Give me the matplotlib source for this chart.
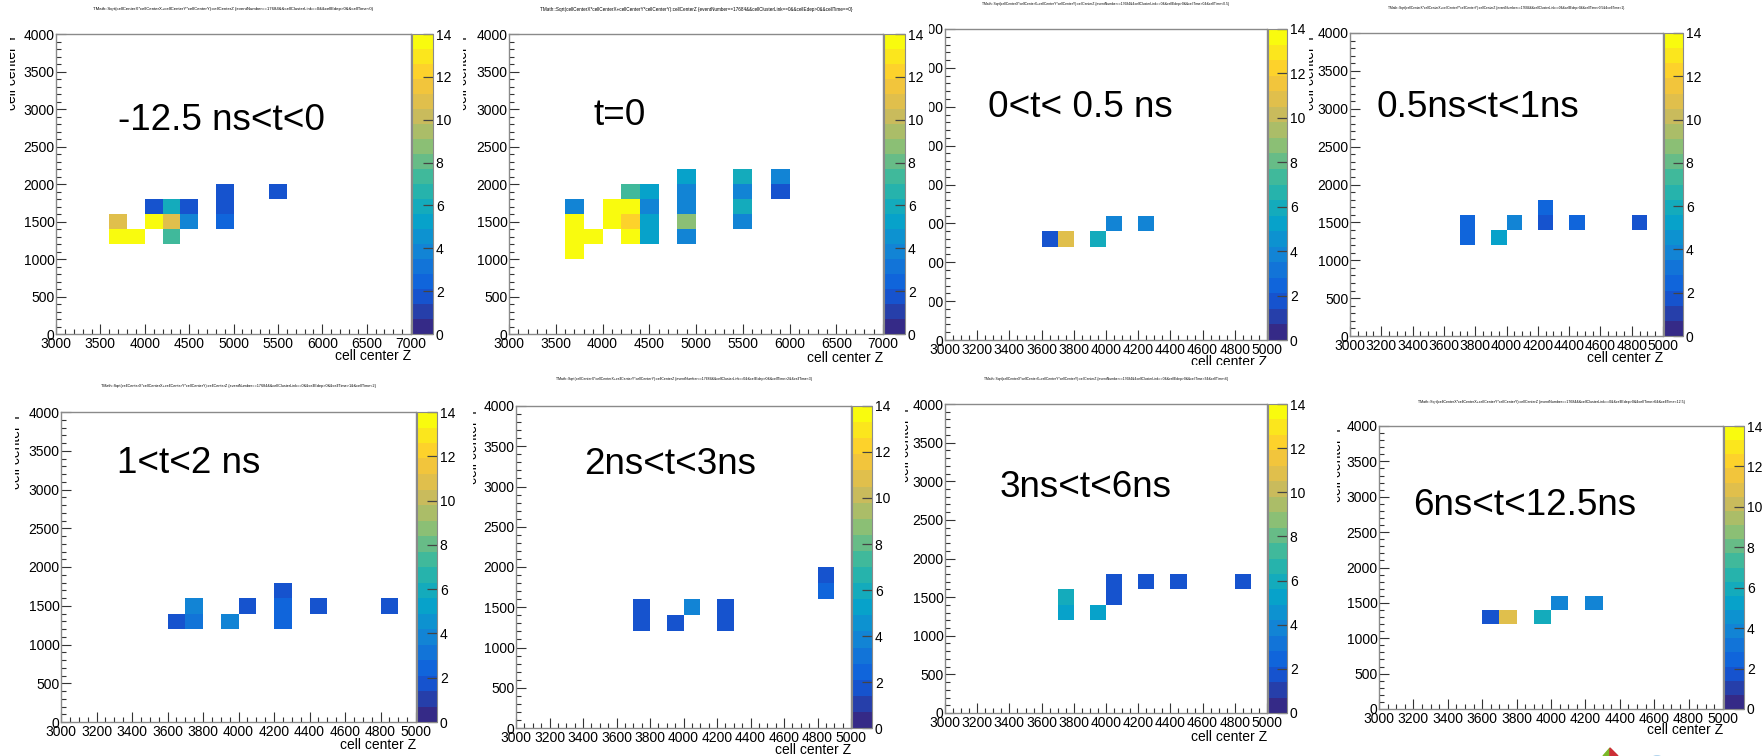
import numpy as np
import matplotlib
matplotlib.use("Agg")
import matplotlib.pyplot as plt
from matplotlib.colors import LinearSegmentedColormap, ListedColormap
from matplotlib.ticker import MultipleLocator
from matplotlib.transforms import Bbox, TransformedBbox
from matplotlib.textpath import TextPath
from matplotlib.font_manager import FontProperties
from matplotlib.patches import Polygon, Circle

plt.rcParams['font.family'] = ['Liberation Sans', 'DejaVu Sans']

W, H = 1762, 756

# time windows shown on each panel
labels = ["-12.5 ns<t<0", "t=0", "0<t< 0.5 ns", "0.5ns<t<1ns",
          "1<t<2 ns", "2ns<t<3ns", "3ns<t<6ns", "6ns<t<12.5ns"]
cuts = ["cellTime<0", "cellTime==0", "cellTime>0&&cellTime<0.5", "cellTime>0.5&&cellTime<1",
        "cellTime>1&&cellTime<2", "cellTime>2&&cellTime<3", "cellTime>3&&cellTime<6",
        "cellTime>6&&cellTime<12.5"]

# cell centres (Z, Y) and bin contents for every window
z1 = [3700, 3900, 4300, 3700, 4100, 4300, 4500, 4100, 4300, 4500, 4900, 4900, 4900, 5500]
y1 = [1300, 1300, 1300, 1500, 1500, 1500, 1500, 1700, 1700, 1700, 1500, 1700, 1900, 1900]
w1 = [13.8, 13.4, 7.5, 10.8, 13.8, 10.8, 4.0, 1.6, 6.0, 1.6, 2.4, 1.6, 1.6, 1.6]

z2 = [3700, 3700, 3700, 3700, 3900, 4100, 4100, 4300, 4300, 4300, 4300,
      4500, 4500, 4500, 4500, 4900, 4900, 4900, 4900, 4900, 5500, 5500, 5500, 5500, 5900, 5900]
y2 = [1700, 1500, 1300, 1100, 1300, 1700, 1500, 1900, 1700, 1500, 1300,
      1900, 1700, 1500, 1300, 2100, 1900, 1700, 1500, 1300, 2100, 1900, 1700, 1500, 2100, 1900]
w2 = [3.8, 13.8, 13.8, 13.8, 13.8, 13.8, 13.8, 7.5, 13.8, 12.0, 13.8,
      5.0, 4.0, 5.0, 5.0, 5.0, 4.0, 3.6, 8.7, 3.6, 6.0, 4.0, 6.0, 4.0, 3.6, 1.6]

z3 = [3650, 3750, 3950, 4050, 4250]
y3 = [1300, 1300, 1300, 1500, 1500]
w3 = [1.6, 10.8, 6.0, 4.0, 4.0]

z4 = [3750, 3750, 3950, 4050, 4250, 4250, 4450, 4850]
y4 = [1300, 1500, 1300, 1500, 1500, 1700, 1500, 1500]
w4 = [2.4, 2.4, 5.0, 3.6, 1.6, 2.4, 2.4, 1.6]

z5 = [3650, 3750, 3750, 3950, 4050, 4250, 4250, 4250, 4450, 4850]
y5 = [1300, 1300, 1500, 1300, 1500, 1300, 1500, 1700, 1500, 1500]
w5 = [1.6, 3.3, 4.0, 3.8, 1.6, 2.4, 2.4, 1.6, 1.6, 1.6]

z6 = [3750, 3750, 3950, 4050, 4250, 4250, 4850, 4850]
y6 = [1300, 1500, 1300, 1500, 1300, 1500, 1700, 1900]
w6 = [1.6, 1.6, 1.6, 3.6, 1.6, 1.6, 2.4, 1.6]

z7 = [3750, 3750, 3950, 4050, 4050, 4250, 4450, 4850]
y7 = [1300, 1500, 1300, 1500, 1700, 1700, 1700, 1700]
w7 = [5.0, 5.8, 5.3, 1.6, 1.6, 1.6, 1.6, 1.6]

z8 = [3650, 3750, 3950, 4050, 4250]
y8 = [1300, 1300, 1300, 1500, 1500]
w8 = [1.6, 10.8, 6.0, 4.0, 4.0]

zs = [z1, z2, z3, z4, z5, z6, z7, z8]
ys = [y1, y2, y3, y4, y5, y6, y7, y8]
ws = [w1, w2, w3, w4, w5, w6, w7, w8]
zmax = [7000, 7000, 5000, 5000, 5000, 5000, 5000, 5000]
zbin = [200, 200, 100, 100, 100, 100, 100, 100]

# ROOT kBird palette with 20 contour levels
bird_r = [0.2082, 0.0592, 0.0780, 0.0232, 0.1802, 0.5301, 0.8186, 0.9956, 0.9764]
bird_g = [0.1664, 0.3599, 0.5041, 0.6419, 0.7178, 0.7492, 0.7328, 0.7862, 0.9832]
bird_b = [0.5293, 0.8684, 0.8385, 0.7914, 0.6425, 0.4662, 0.3499, 0.1968, 0.0539]
bird = LinearSegmentedColormap.from_list(
    "bird", list(zip(np.linspace(0, 1, 9), zip(bird_r, bird_g, bird_b))))
cmap = ListedColormap(bird(np.linspace(0, 1, 20)))

# panel boxes in pixels: axes left, top, right, bottom, colorbar left, right
boxes = [(56, 34, 411, 334, 412, 433), (509, 34, 883, 334, 884, 905),
         (945, 29, 1267, 340, 1268, 1287), (1350, 33, 1663, 336, 1664, 1683),
         (61, 412, 416, 722, 417, 437), (516, 406, 851, 728, 852, 872),
         (945, 404, 1267, 713, 1268, 1287), (1379, 426, 1723, 709, 1724, 1744)]
label_pos = [(118, 130), (593, 125), (988, 117), (1377, 117),
             (117, 473), (584, 474), (1000, 497), (1413, 515)]
title_pos = [(94, 373, 9), (543, 849, 9), (980, 1231, 4), (1385, 1628, 8),
             (102, 375, 386), (555, 812, 379), (983, 1230, 379), (1418, 1685, 402)]
xlab_y = [356, 358, 362, 358, 745, 750, 737, 730]
ylab_pos = [(19, 33, 10), (470, 33, 463), None, (1317, 33, 1309),
            (23, 412, 15), (480, 407, 473), (912, 405, 905), (1344, 425, 1337)]

fig = plt.figure(figsize=(W / 100, H / 100), dpi=100)
fig.patch.set_facecolor("white")


def clip_px(x0, y0, x1, y1):
    return TransformedBbox(Bbox.from_extents(x0 / W, 1 - y1 / H, x1 / W, 1 - y0 / H),
                           fig.transFigure)


fp = FontProperties(family="Liberation Sans")
frame = "#8a8a8a"

for i in range(8):
    l, t, r, b, c0, c1 = boxes[i]
    ax = fig.add_axes([l / W, 1 - b / H, (r - l) / W, (b - t) / H])
    xedges = np.arange(3000, zmax[i] + 1, zbin[i])
    yedges = np.arange(0, 4001, 200)
    h = ax.hist2d(zs[i], ys[i], bins=[xedges, yedges], weights=ws[i],
                  cmap=cmap, vmin=0, vmax=14, cmin=0.01)
    ax.set_xlim(3000, zmax[i])
    ax.set_ylim(0, 4000)
    if zmax[i] == 7000:
        ax.xaxis.set_major_locator(MultipleLocator(500))
        ax.xaxis.set_minor_locator(MultipleLocator(100))
    else:
        ax.xaxis.set_major_locator(MultipleLocator(200))
        ax.xaxis.set_minor_locator(MultipleLocator(50))
    ax.yaxis.set_major_locator(MultipleLocator(500))
    ax.yaxis.set_minor_locator(MultipleLocator(100))
    ax.tick_params(which="both", direction="in", labelsize=10, width=0.8, color="#333333")
    ax.tick_params(which="major", length=7, pad=2)
    ax.tick_params(which="minor", length=3.5)
    ax.tick_params(axis="y", which="major", length=7.5, pad=1)
    for s in ax.spines.values():
        s.set_color(frame)
        s.set_linewidth(1.0)

    cax = fig.add_axes([c0 / W, 1 - b / H, (c1 - c0) / W, (b - t) / H])
    cb = fig.colorbar(h[3], cax=cax, ticks=range(0, 15, 2))
    cb.outline.set_edgecolor(frame)
    cb.outline.set_linewidth(0.8)
    cax.tick_params(direction="in", length=7, width=0.9, color="#444444",
                    labelsize=10, pad=2)
    cax.minorticks_off()

    # big time-window label
    fig.text(label_pos[i][0] / W, 1 - label_pos[i][1] / H, labels[i], fontsize=26.6,
             ha="left", va="baseline")

    # tiny ROOT draw command as title
    title = ("TMath::Sqrt(cellCenterX*cellCenterX+cellCenterY*cellCenterY):cellCenterZ "
             "{eventNumber==17684&&cellClusterLink==0&&cellEdep>0&&" + cuts[i] + "}")
    x0, x1, ty = title_pos[i]
    w10 = TextPath((0, 0), title, size=10, prop=fp).get_extents().width
    fs = (x1 - x0) * 72 / 100 / (w10 / 10)
    fig.text((x0 + x1) / 2 / W, 1 - ty / H, title, fontsize=fs, ha="center", va="center")

    # axis titles
    xl = fig.text(r / W, 1 - xlab_y[i] / H, "cell center Z", fontsize=10,
                  ha="right", va="center")
    if i == 2:
        xl.set_clip_box(clip_px(0, 0, W, 365))
        xl.set_clip_on(True)
        for lab in ax.get_yticklabels():
            lab.set_clip_box(clip_px(929, 0, W, H))
            lab.set_clip_on(True)
    if ylab_pos[i] is not None:
        yx, yt, yc = ylab_pos[i]
        yl = fig.text(yx / W, 1 - yt / H, "cell center Y", fontsize=10, rotation=90,
                      ha="right", va="top")
        yl.set_clip_box(clip_px(yc, 0, W, H))
        yl.set_clip_on(True)

# bits of the logos at the bottom edge
fig.patches.append(Polygon([[1603 / W, 0], [1610 / W, 1 - 748 / H], [1610 / W, 0]],
                           closed=True, transform=fig.transFigure, color="#7bb927"))
fig.patches.append(Polygon([[1610 / W, 0], [1610 / W, 1 - 748 / H], [1618 / W, 0]],
                           closed=True, transform=fig.transFigure, color="#cc2f36"))
fig.patches.append(Circle((1657 / W, 1 - 760 / H), 9 / W, transform=fig.transFigure,
                          fill=False, edgecolor="#4a9ad6", linewidth=0.8))

fig.savefig("out.png", dpi=100)
